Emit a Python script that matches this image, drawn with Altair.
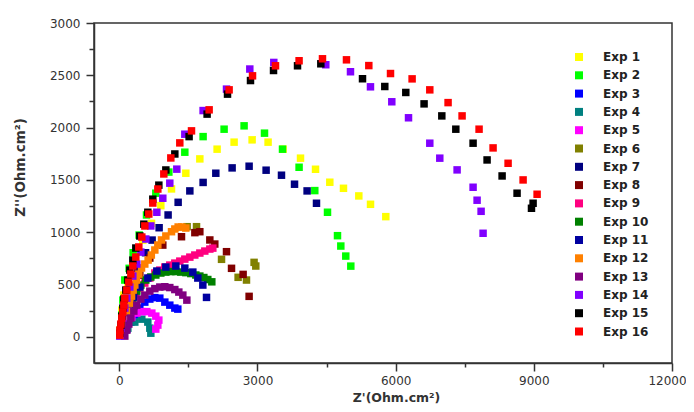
import altair as alt
import pandas as pd

labels = [f"Exp {i}" for i in range(1, 17)]
colors = ["#FFFF00", "#00FF00", "#0000FF", "#008080", "#FF00FF", "#808000",
          "#000080", "#800000", "#FF0080", "#008000", "#0000A0", "#FF8000",
          "#800080", "#8000FF", "#000000", "#FF0000"]

exp1_x = [11, 54, 98, 185, 336, 510, 699, 901, 1133, 1444, 1748, 2123, 2492, 2883, 3230, 3556, 3934, 4260, 4570, 4867, 5200, 5454, 5786]
exp1_y = [64, 255, 399, 495, 714, 925, 1085, 1254, 1414, 1564, 1701, 1794, 1861, 1883, 1861, 1794, 1708, 1602, 1478, 1420, 1347, 1267, 1149]
exp2_x = [33, 54, 76, 119, 213, 300, 430, 590, 792, 1075, 1422, 1819, 2275, 2709, 3152, 3543, 3903, 4244, 4520, 4737, 4809, 4917, 5026]
exp2_y = [64, 208, 351, 543, 655, 804, 973, 1165, 1373, 1575, 1765, 1914, 1985, 2017, 1947, 1794, 1621, 1398, 1191, 967, 868, 772, 676]
exp3_x = [98, 163, 250, 336, 445, 553, 662, 771, 879, 988, 1096, 1205, 1270]
exp3_y = [16, 74, 141, 208, 275, 332, 361, 375, 370, 332, 303, 275, 265]
exp4_x = [54, 185, 336, 488, 619, 662, 684]
exp4_y = [16, 83, 141, 169, 141, 83, 35]
exp5_x = [54, 119, 185, 271, 380, 488, 597, 706, 792, 858, 836, 792]
exp5_y = [26, 83, 141, 189, 227, 241, 241, 227, 198, 160, 112, 74]
exp6_x = [1472, 1676, 2219, 2579, 2761, 2926, 2963]
exp6_y = [1053, 1053, 741, 569, 543, 712, 677]
exp7_x = [33, 119, 228, 402, 569, 712, 864, 1059, 1277, 1531, 1819, 2095, 2449, 2818, 3187, 3521, 3804, 4077, 4281]
exp7_y = [64, 255, 447, 655, 804, 925, 1043, 1165, 1286, 1395, 1476, 1564, 1615, 1631, 1593, 1545, 1459, 1395, 1277]
exp8_x = [184, 228, 315, 445, 662, 944, 1350, 1640, 1748, 1965, 2073, 2327, 2436, 2688, 2818]
exp8_y = [160, 304, 447, 590, 753, 877, 957, 996, 1005, 926, 887, 814, 655, 597, 387]
exp9_x = [54, 98, 141, 206, 271, 358, 445, 553, 662, 771, 879, 988, 1096, 1205, 1313, 1422, 1531, 1639, 1748, 1856, 1965, 2030]
exp9_y = [64, 141, 208, 284, 351, 409, 466, 514, 562, 610, 638, 667, 686, 705, 724, 743, 762, 782, 801, 820, 839, 848]
exp10_x = [76, 119, 163, 228, 293, 380, 467, 575, 684, 792, 901, 1010, 1118, 1227, 1335, 1444, 1552, 1661, 1748, 1835, 1921, 2008]
exp10_y = [64, 141, 208, 294, 370, 437, 495, 543, 572, 591, 610, 619, 624, 624, 619, 614, 605, 591, 581, 567, 548, 526]
exp11_x = [54, 119, 206, 315, 445, 619, 814, 1010, 1227, 1422, 1596, 1704, 1813, 1893]
exp11_y = [45, 160, 275, 380, 476, 562, 629, 667, 677, 657, 619, 562, 495, 377]
exp12_x = [48, 98, 156, 195, 228, 265, 300, 336, 373, 423, 482, 553, 625, 695, 771, 836, 916, 1010, 1133, 1205, 1277, 1357, 1444]
exp12_y = [35, 102, 160, 246, 322, 389, 447, 495, 543, 600, 658, 696, 734, 782, 830, 878, 926, 964, 1005, 1031, 1050, 1050, 1040]
exp13_x = [119, 163, 206, 250, 315, 380, 467, 553, 662, 771, 879, 988, 1096, 1205, 1292, 1379, 1466]
exp13_y = [7, 64, 122, 179, 246, 303, 361, 399, 437, 461, 476, 479, 471, 452, 428, 399, 351]
exp14_x = [10, 33, 76, 119, 163, 228, 293, 380, 467, 575, 684, 814, 944, 1096, 1248, 1422, 1819, 2327, 2833, 3354, 4483, 5019, 5453, 5916, 6279, 6741, 6958, 7334, 7681, 7768, 7855, 7898]
exp14_y = [7, 83, 179, 275, 370, 476, 581, 696, 810, 935, 1060, 1191, 1325, 1469, 1603, 1937, 2163, 2368, 2560, 2623, 2601, 2534, 2390, 2247, 2094, 1851, 1708, 1596, 1430, 1306, 1200, 990]
exp15_x = [11, 33, 54, 76, 98, 141, 185, 228, 293, 358, 445, 532, 619, 727, 858, 1010, 1205, 1515, 1906, 2349, 2848, 3348, 3869, 4375, 5280, 5764, 6220, 6617, 7002, 7306, 7681, 7985, 8311, 8636, 8984, 8949]
exp15_y = [35, 112, 198, 275, 361, 447, 543, 638, 734, 849, 964, 1077, 1191, 1316, 1450, 1595, 1748, 1914, 2129, 2320, 2450, 2546, 2591, 2610, 2467, 2393, 2336, 2227, 2112, 1985, 1851, 1691, 1538, 1373, 1277, 1229]
exp16_x = [10, 11, 33, 54, 76, 98, 119, 163, 206, 250, 293, 358, 423, 488, 554, 640, 727, 836, 966, 1118, 1313, 1567, 1950, 2384, 2892, 3391, 3903, 4411, 4932, 5417, 5888, 6357, 6741, 7138, 7442, 7811, 8115, 8441, 8767, 9071]
exp16_y = [16, 64, 122, 179, 236, 303, 370, 447, 523, 600, 677, 763, 859, 954, 1060, 1174, 1279, 1413, 1557, 1710, 1854, 1969, 2170, 2361, 2495, 2591, 2639, 2658, 2648, 2593, 2517, 2466, 2361, 2239, 2112, 1985, 1806, 1659, 1500, 1363]

x_ticks = [0, 1500, 3000, 4500, 6000, 7500, 9000, 10500, 12000]
y_ticks = [0, 250, 500, 750, 1000, 1250, 1500, 1750, 2000, 2250, 2500, 2750, 3000]

series = [(exp1_x, exp1_y), (exp2_x, exp2_y), (exp3_x, exp3_y), (exp4_x, exp4_y),
          (exp5_x, exp5_y), (exp6_x, exp6_y), (exp7_x, exp7_y), (exp8_x, exp8_y),
          (exp9_x, exp9_y), (exp10_x, exp10_y), (exp11_x, exp11_y), (exp12_x, exp12_y),
          (exp13_x, exp13_y), (exp14_x, exp14_y), (exp15_x, exp15_y), (exp16_x, exp16_y)]

rows = []
for i, (xs, ys) in enumerate(series):
    for xv, yv in zip(xs, ys):
        rows.append({"exp": labels[i], "k": i, "x": xv, "y": yv})
df = pd.DataFrame(rows)

FONT = "DejaVu Sans"
TXT = "#333333"

chart = alt.Chart(df).mark_square(size=56, opacity=1, strokeWidth=0).encode(
    x=alt.X("x:Q",
            scale=alt.Scale(domain=[-550, 12000], nice=False, zero=False),
            axis=alt.Axis(values=x_ticks, format="d", grid=False,
                          labelExpr="datum.value % 3000 === 0 ? datum.label : ''",
                          labelOverlap=False, labelFlush=False,
                          labelOffset={"condition": {"test": "datum.value === 12000", "value": -5}, "value": 0},
                          tickSize={"condition": {"test": "datum.value % 3000 === 0", "value": 8}, "value": 4},
                          labelPadding=4, labelFont=FONT, labelFontSize=12, labelColor=TXT,
                          title="Z'(Ohm.cm²)", titleFont=FONT, titleFontSize=12.5,
                          titleFontWeight="bold", titleColor=TXT,
                          titleX=302, titleY=34, titleAlign="center", titleBaseline="middle")),
    y=alt.Y("y:Q",
            scale=alt.Scale(domain=[-250, 3000], nice=False, zero=False),
            axis=alt.Axis(values=y_ticks, format="d", grid=False,
                          labelExpr="datum.value % 500 === 0 ? datum.label : ''",
                          labelOverlap=False, labelFlush=False,
                          tickSize={"condition": {"test": "datum.value % 500 === 0", "value": 8}, "value": 5},
                          labelPadding=6, labelFont=FONT, labelFontSize=12, labelColor=TXT,
                          title="Z''(Ohm.cm²)", titleFont=FONT, titleFontSize=13.5,
                          titleFontWeight="bold", titleColor=TXT, titleAngle=270,
                          titleX=-74, titleY=144, titleAlign="center", titleBaseline="middle")),
    color=alt.Color("exp:N",
                    scale=alt.Scale(domain=labels, range=colors),
                    legend=alt.Legend(title=None, orient="none", legendX=479, legendY=28,
                                      symbolType="square", symbolSize=64, symbolStrokeWidth=0,
                                      symbolOpacity=1, labelFont=FONT, labelFontSize=12,
                                      labelFontWeight="bold", labelColor="#222222",
                                      labelOffset=18, rowPadding=6.3, padding=0)),
    order=alt.Order("k:Q"),
).properties(
    width=578, height=340,
    autosize=alt.AutoSizeParams(type="none"),
    padding={"left": 86, "top": 15, "right": 14, "bottom": 41},
).configure_view(
    stroke="#333333", strokeWidth=1.5
).configure_axis(
    domainColor="#333333", domainWidth=1.5, tickColor="#333333", tickWidth=1.5
)

chart.save("out.html", embed_options={"renderer": "svg", "actions": False})
